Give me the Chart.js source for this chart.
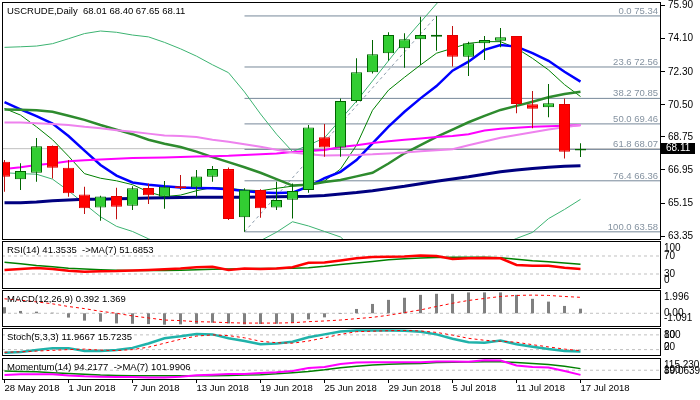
<!DOCTYPE html>
<html>
<head>
<meta charset="utf-8">
<script src="https://cdn.jsdelivr.net/npm/chart.js@4.4.1/dist/chart.umd.min.js"></script>
<style>
  html, body { margin: 0; padding: 0; background: #fff; }
  #wrap { position: relative; width: 700px; height: 400px; overflow: hidden; background: #fff; }
  #wrap canvas { position: absolute; left: 0; top: 0; }
</style>
</head>
<body>
<div id="wrap">
  <canvas id="main" width="700" height="400"></canvas>
  <canvas id="rsi" width="700" height="400"></canvas>
  <canvas id="macd" width="700" height="400"></canvas>
  <canvas id="stoch" width="700" height="400"></canvas>
  <canvas id="mom" width="700" height="400"></canvas>
</div>
<script>
const dates = ['28 May 2018', '29 May 2018', '30 May 2018', '31 May 2018', '1 Jun 2018', '4 Jun 2018', '5 Jun 2018', '6 Jun 2018', '7 Jun 2018', '8 Jun 2018',
  '11 Jun 2018', '12 Jun 2018', '13 Jun 2018', '14 Jun 2018', '15 Jun 2018', '18 Jun 2018', '19 Jun 2018', '20 Jun 2018', '21 Jun 2018', '22 Jun 2018',
  '25 Jun 2018', '26 Jun 2018', '27 Jun 2018', '28 Jun 2018', '29 Jun 2018', '2 Jul 2018', '3 Jul 2018', '4 Jul 2018', '5 Jul 2018', '6 Jul 2018',
  '9 Jul 2018', '10 Jul 2018', '11 Jul 2018', '12 Jul 2018', '13 Jul 2018', '16 Jul 2018', '17 Jul 2018'];
const dateTicks = [0, 4, 8, 12, 16, 20, 24, 28, 32, 36];

const open = [67.40, 66.44, 66.80, 68.25, 67.07, 65.62, 64.91, 65.53, 65.00, 65.97, 65.49, 66.07, 66.00, 66.58, 67.00, 64.37, 65.86, 64.91, 65.33, 65.86,
  68.73, 68.18, 70.71, 72.27, 73.31, 73.58, 74.07, 74.21, 74.30, 73.12, 73.85, 73.99, 74.25, 70.53, 70.36, 70.54, 68.01];
const high = [67.49, 67.31, 68.69, 68.28, 67.49, 66.04, 65.55, 65.98, 66.07, 66.22, 66.35, 66.67, 66.95, 67.16, 67.09, 65.95, 65.90, 66.31, 66.22, 69.40,
  69.45, 70.85, 73.03, 74.03, 74.45, 74.40, 75.30, 75.34, 74.79, 73.94, 74.25, 74.68, 74.25, 71.25, 71.63, 70.85, 68.40];
const low = [65.76, 65.86, 66.31, 66.49, 65.49, 64.55, 64.18, 64.26, 64.77, 65.09, 64.84, 65.86, 65.49, 66.31, 64.22, 63.58, 64.35, 64.77, 64.31, 65.71,
  67.67, 67.67, 70.62, 72.20, 72.90, 72.52, 72.67, 73.45, 72.58, 72.07, 72.94, 73.63, 70.04, 69.22, 69.82, 67.58, 67.65];
const close = [66.58, 66.89, 68.24, 67.07, 65.68, 64.86, 65.51, 64.95, 65.95, 65.57, 66.04, 65.97, 66.60, 67.00, 64.28, 65.87, 64.86, 65.31, 65.80, 69.27,
  68.18, 70.71, 72.27, 73.25, 74.30, 74.07, 74.30, 74.32, 73.12, 73.85, 74.03, 74.18, 70.54, 70.29, 70.58, 67.94, 68.11];

// moving averages / bands on the price chart
const maBlue = [70.64, 70.25, 69.88, 69.48, 68.8, 68.0, 67.22, 66.64, 66.27, 66.15, 66.06, 66.0, 65.97, 65.95, 65.9, 65.8, 65.72, 65.7, 65.72, 66.05,
  66.5, 66.85, 67.49, 68.40, 69.31, 70.12, 70.85, 71.52, 72.36, 72.85, 73.49, 73.76, 73.67, 73.31, 72.9, 72.3, 71.76];
const maFast = [70.3, 69.94, 69.3, 68.6, 67.7, 66.75, 66.5, 66.36, 66.15, 65.75, 65.5, 65.58, 65.82, 66.0, 65.95, 65.86, 65.82, 65.95, 66.07, 66.15,
  66.35, 67.0, 68.3, 70.2, 71.3, 72.0, 72.67, 73.31, 73.58, 73.85, 73.94, 73.94, 73.58, 73.03, 72.4, 71.6, 70.95];
const bbMid = [70.25, 70.23, 70.2, 70.12, 69.9, 69.68, 69.4, 69.15, 68.9, 68.6, 68.38, 68.2, 67.95, 67.65, 67.38, 67.1, 66.8, 66.45, 66.1, 66.15,
  66.3, 66.4, 66.6, 66.8, 67.3, 67.86, 68.3, 68.75, 69.15, 69.55, 69.9, 70.22, 70.44, 70.67, 70.91, 71.09, 71.21];
const maMagenta = [67.0, 67.1, 67.22, 67.3, 67.42, 67.48, 67.52, 67.56, 67.6, 67.62, 67.63, 67.65, 67.68, 67.7, 67.72, 67.76, 67.8, 67.85, 67.93, 67.98,
  68.04, 68.2, 68.3, 68.42, 68.52, 68.6, 68.67, 68.74, 68.8, 68.9, 69.1, 69.2, 69.25, 69.3, 69.33, 69.36, 69.38];
const maViolet = [69.54, 69.54, 69.5, 69.45, 69.4, 69.3, 69.22, 69.12, 69.03, 68.93, 68.83, 68.8, 68.75, 68.6, 68.49, 68.35, 68.22, 68.05, 67.9, 67.8,
  67.74, 67.75, 67.77, 67.8, 67.85, 67.9, 67.97, 68.02, 68.08, 68.3, 68.5, 68.7, 68.85, 69.0, 69.15, 69.28, 69.4];
const maNavy = [65.16, 65.17, 65.2, 65.28, 65.32, 65.35, 65.36, 65.38, 65.4, 65.42, 65.44, 65.45, 65.46, 65.46, 65.47, 65.47, 65.48, 65.49, 65.5, 65.52,
  65.56, 65.64, 65.72, 65.82, 65.94, 66.06, 66.2, 66.34, 66.46, 66.58, 66.72, 66.85, 66.95, 67.03, 67.1, 67.15, 67.18];
const bbUp = [73.63, 73.66, 73.7, 73.83, 74.1, 74.38, 74.52, 74.45, 74.3, 74.2, 73.9, 73.55, 73.15, 72.68, 72.25, 71.2, 70.0, 68.9, 67.95, 68.3,
  68.7, 69.7, 70.7, 71.8, 72.9, 74.0, 75.0, 76.0, 76.9, 77.3, 77.5, 77.6, 77.66, 77.79, 77.52, 77.38, 77.07];
const bbLow = [66.8, 66.75, 66.72, 66.45, 65.82, 65.1, 64.4, 63.88, 63.6, 63.2, 62.86, 62.85, 62.75, 62.62, 62.51, 62.8, 63.1, 63.56, 64.13, 63.9,
  63.6, 63.3, 62.5, 61.8, 61.7, 61.7, 61.6, 61.5, 61.4, 61.8, 62.3, 62.84, 63.22, 63.55, 64.3, 64.8, 65.35];

const fibLevels = [0.0, 23.6, 38.2, 50.0, 61.8, 76.4, 100.0];
const fibPrices = [75.34, 72.56, 70.85, 69.46, 68.07, 66.36, 63.58];
const fibFrom = 15, fibTo = 27;
const priceTicks = [75.90, 74.10, 72.30, 70.50, 68.75, 66.95, 65.15, 63.35];
const lastPrice = 68.11;

// indicators
const rsi = [39, 41, 43.5, 41, 37, 35, 36, 36.5, 38, 39, 40.5, 42, 45, 46, 39, 42, 41, 42, 45, 55,
  55.5, 60, 65, 68, 68.5, 69, 71, 70, 63.5, 65, 65.5, 65, 50, 48.5, 48.5, 44, 41.35];
const rsiMa = [56, 53, 49, 46, 43, 41, 39.5, 38.5, 38, 38, 38, 38.5, 39.5, 40.5, 41, 41.5, 42, 42, 42.5, 44,
  47, 51, 54.5, 58, 61.5, 64, 65.5, 66.5, 67, 67, 67, 66, 63, 59.6, 57.4, 54.5, 51.69];
const macd = [0.52, 0.2, 0.14, 0.05, -0.37, -0.63, -0.72, -0.87, -0.9, -0.93, -0.98, -0.95, -0.9, -0.81, -0.87, -0.95, -0.92, -0.9, -0.81, -0.52,
  -0.35, -0.05, 0.37, 0.8, 1.15, 1.33, 1.58, 1.67, 1.67, 1.79, 1.79, 1.79, 1.58, 1.24, 1.0, 0.63, 0.392];
const macdSignal = [1.24, 1.12, 0.98, 0.81, 0.58, 0.40, 0.17, 0.0, -0.23, -0.40, -0.58, -0.63, -0.72, -0.75, -0.81, -0.84, -0.84, -0.84, -0.81, -0.72,
  -0.66, -0.58, -0.46, -0.35, -0.17, 0.06, 0.29, 0.58, 0.86, 1.10, 1.27, 1.44, 1.53, 1.56, 1.53, 1.44, 1.369];
const stochK = [7, 10, 18, 26, 26, 14, 14, 18, 27, 45, 66, 74, 84, 82, 66, 55, 42, 45, 52, 70,
  82, 94, 98, 98, 98, 97, 93, 82, 64, 50, 48, 57, 42, 32, 22, 14, 11.97];
const stochD = [9, 11, 14, 17, 20, 22, 18, 16, 20, 30, 46, 62, 75, 80, 77, 68, 54, 48, 46, 55,
  68, 82, 93, 95, 97, 98, 96, 90, 79, 66, 58, 54, 50, 40, 31, 22, 15.72];
const mom = [94.2, 95, 95, 95, 93.5, 92.5, 92, 91.6, 91.6, 90.8, 91, 92, 93.7, 94.5, 95.4, 95.4, 96.5, 97.5, 99, 102.7,
  104, 107.8, 109.5, 110, 110, 110, 110, 111, 111, 110.5, 112.5, 112, 106, 104, 103.5, 99, 94.22];
const momMa = [99, 98.5, 98, 97, 96, 95, 94, 93.5, 93, 93, 93, 93, 93, 93, 93.3, 94, 94.5, 95.5, 97, 98.5,
  100.5, 103, 105, 106.5, 107.5, 108, 108.5, 109.5, 110, 110.3, 110.5, 110.5, 109.5, 108.5, 107, 105, 101.99];

const FONT = '"Liberation Sans", Arial, sans-serif';
Chart.defaults.font.family = FONT;
const xMin = -0.15625, xMax = 40.96875;

const series = arr => arr.map((v, i) => ({ x: i, y: v }));
const level = v => [{ x: xMin, y: v }, { x: xMax, y: v }];
const line = (data, color, width, extra) => Object.assign({
  type: 'line', data, borderColor: color, borderWidth: width, pointRadius: 0, tension: 0, clip: 0, order: 5
}, extra || {});
const dashed = v => line(level(v), '#c0c0c0', 1, { borderDash: [3, 3], order: 20 });

function xAxis(show) {
  return {
    type: 'linear', min: xMin, max: xMax, offset: false, display: show,
    grid: { offset: false, drawOnChartArea: false, drawTicks: true, tickLength: 4, tickColor: '#000' },
    border: { display: false },
    ticks: { align: 'start', maxRotation: 0, autoSkip: false, padding: 0, color: '#000', font: { size: 9.5 }, callback: v => dates[v] },
    afterBuildTicks: s => { s.ticks = dateTicks.map(v => ({ value: v })); },
    afterFit: s => { s.height = show ? 21 : 0; s.paddingLeft = 0; s.paddingRight = 0; }
  };
}

// frame, title and right-hand labels of each panel
function decor(cfg) {
  return {
    id: 'decor',
    afterDatasetsDraw(chart) {
      const ctx = chart.ctx, a = chart.chartArea, ys = chart.scales.y;
      ctx.save();
      ctx.strokeStyle = '#000';
      ctx.lineWidth = 1;
      ctx.strokeRect(Math.floor(a.left) + 0.5, Math.floor(a.top) + 0.5, Math.round(a.right - a.left), Math.round(a.bottom - a.top));
      ctx.fillStyle = '#000';
      ctx.textBaseline = 'middle';
      ctx.textAlign = 'left';
      ctx.font = '9.5px ' + FONT;
      ctx.fillText(cfg.title, a.left + 5, a.top + cfg.titleDy);
      if (cfg.levels) {
        ctx.font = '10px ' + FONT;
        cfg.levels.forEach((v, k) => {
          const py = ys.getPixelForValue(v);
          const ly = Math.min(Math.max(py, a.top + 7.5), a.bottom - 7.5);
          ctx.fillText(cfg.labels[k], a.right + 4, ly);
        });
      }
      if (cfg.extra) cfg.extra(chart);
      ctx.restore();
    }
  };
}

function mainExtra(chart) {
  const ctx = chart.ctx, a = chart.chartArea, ys = chart.scales.y;
  ctx.font = '9.5px ' + FONT;
  ctx.fillStyle = '#8492a0';
  ctx.textAlign = 'right';
  ctx.textBaseline = 'alphabetic';
  fibLevels.forEach((lv, k) => {
    ctx.fillText(lv.toFixed(1) + ' ' + fibPrices[k].toFixed(2), a.right - 2, ys.getPixelForValue(fibPrices[k]) - 2);
  });
  const py = ys.getPixelForValue(lastPrice);
  ctx.fillStyle = '#000';
  ctx.fillRect(a.right + 1, Math.round(py) - 6, 34, 11);
  ctx.fillStyle = '#fff';
  ctx.textAlign = 'left';
  ctx.textBaseline = 'middle';
  ctx.font = '10px ' + FONT;
  ctx.fillText(lastPrice.toFixed(2), a.right + 6, py);
}

const base = {
  responsive: false, animation: false, events: [],
  plugins: { legend: { display: false }, tooltip: { enabled: false } }
};

// ---- price panel
const up = close.map((c, i) => c >= open[i]);
new Chart(document.getElementById('main'), {
  type: 'bar',
  data: {
    datasets: [
      {
        type: 'bar', data: dates.map((d, i) => ({ x: i, y: [open[i], close[i]] })),
        backgroundColor: up.map(u => u ? '#32cd32' : '#ff0000'),
        borderColor: up.map(u => u ? '#006400' : '#e00000'),
        borderWidth: 1, borderSkipped: false, barThickness: 11, grouped: false, inflateAmount: 0, order: 0
      },
      {
        type: 'bar', data: dates.map((d, i) => ({ x: i, y: [low[i], high[i]] })),
        backgroundColor: up.map(u => u ? '#006400' : '#c01010'),
        borderWidth: 0, barThickness: 1, grouped: false, inflateAmount: 0, order: 1
      },
      line(series(maNavy), '#000080', 3),
      line(series(maViolet), '#ee82ee', 2),
      line(series(maMagenta), '#ff00ff', 2),
      line(series(bbMid), '#2e8b2e', 2.5),
      line(series(maBlue), '#0000ff', 2.5),
      line(series(maFast), '#008000', 1),
      line(series(bbUp), '#3cb371', 1),
      line(series(bbLow), '#3cb371', 1),
      ...fibPrices.map(p => line([{ x: fibFrom, y: p }, { x: xMax, y: p }], '#778899', 1, { order: 30 })),
      line([{ x: fibFrom, y: fibPrices[6] }, { x: fibTo, y: fibPrices[0] }], '#8a9aaa', 1, { borderDash: [3, 3], order: 30 }),
      line(level(lastPrice), '#c0c0c0', 1, { order: 31 })
    ]
  },
  options: Object.assign({}, base, {
    layout: { padding: { left: 2, top: 2, right: 0, bottom: 161 } },
    scales: {
      x: xAxis(false),
      y: {
        position: 'right', min: 63.19, max: 76.10,
        grid: { drawOnChartArea: false, drawTicks: true, tickLength: 5, tickColor: '#000' },
        border: { display: false },
        ticks: { color: '#000', font: { size: 10 }, padding: 3, autoSkip: false, callback: v => v.toFixed(2) },
        afterBuildTicks: s => { s.ticks = priceTicks.map(v => ({ value: v })); },
        afterFit: s => { s.width = 40; s.paddingTop = 0; s.paddingBottom = 0; }
      }
    }
  }),
  plugins: [decor({ title: 'USCRUDE,Daily  68.01 68.40 67.65 68.11', titleDy: 9, extra: mainExtra })]
});

function panel(id, top, bottom, ymin, ymax, datasets, cfg, showX) {
  return new Chart(document.getElementById(id), {
    type: 'bar',
    data: { datasets },
    options: Object.assign({}, base, {
      layout: { padding: { left: 2, top, right: 40, bottom: showX ? 400 - bottom - 21 : 400 - bottom } },
      scales: { x: xAxis(showX), y: { display: false, min: ymin, max: ymax } }
    }),
    plugins: [decor(cfg)]
  });
}

panel('rsi', 241, 288, -1.1, 103.3, [
  dashed(70), dashed(30),
  line(series(rsiMa), '#008000', 1.5, { order: 2 }),
  line(series(rsi), '#ff0000', 2.5, { order: 1 })
], { title: 'RSI(14) 41.3535  ->MA(7) 51.6853', titleDy: 9.5, levels: [100, 70, 30, 0], labels: ['100', '70', '30', '0'] }, false);

// MACD main line as histogram from zero, signal dotted
panel('macd', 290, 326, -1.091, 1.996, [
  dashed(0),
  {
    type: 'bar', data: series(macd), base: 0,
    backgroundColor: '#808080', borderWidth: 0, barThickness: 3, grouped: false, inflateAmount: 0, order: 3
  },
  line(series(macdSignal), '#ff0000', 1, { borderDash: [3, 3], order: 1 })
], { title: 'MACD(12,26,9) 0.392 1.369', titleDy: 9.5, levels: [1.996, 0, -1.091], labels: ['1.996', '0.00', '-1.091'] }, false);

panel('stoch', 328, 355, -2, 108, [
  dashed(80), dashed(20),
  line(series(stochK), '#20b2aa', 2.5, { order: 2 }),
  line(series(stochD), '#ff0000', 1, { borderDash: [3, 3], order: 1 })
], { title: 'Stoch(5,3,3) 11.9667 15.7235', titleDy: 9.5, levels: [100, 80, 20, 0], labels: ['100', '80', '20', '0'] }, false);

panel('mom', 358, 379, 89.0639, 115.2307, [
  dashed(100),
  line(series(momMa), '#008000', 1.5, { order: 2 }),
  line(series(mom), '#ff00ff', 2, { order: 1 })
], { title: 'Momentum(14) 94.2177  ->MA(7) 101.9906', titleDy: 9.5, levels: [115.2307, 100, 89.0639], labels: ['115.2307', '100', '89.0639'] }, true);
</script>
</body>
</html>
